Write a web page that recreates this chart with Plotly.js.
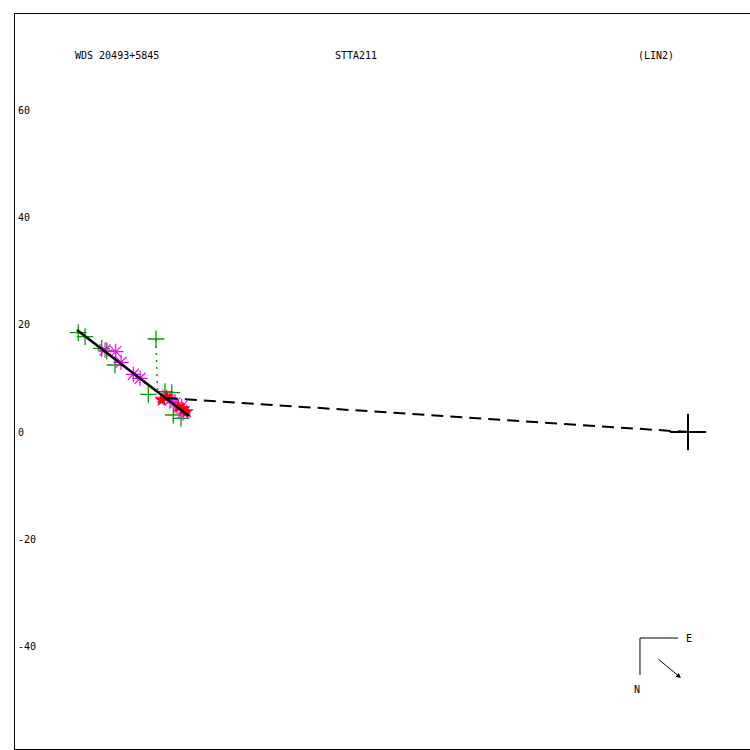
<!DOCTYPE html>
<html>
<head>
<meta charset="utf-8">
<script src="https://cdn.plot.ly/plotly-3.0.1.min.js"></script>
<style>html,body{margin:0;padding:0;background:#fff;}#chart{width:750px;height:750px;}</style>
</head>
<body>
<div id="chart"></div>
<script>
// Orbit (nearly edge-on) and periastron line
const orbitX = [-114.1, -93.2];
const orbitY = [19.05, 2.99];
const periX = [-97.5, 0];
const periY = [6.35, 0];
// Primary star
const primX = [0];
const primY = [0];
// Micrometric observations (green +)
const microX = [-113.86, -112.6, -109.49, -108.55, -107.0, -99.35, -100.78, -97.67, -96.41, -96.11, -94.68];
const microY = [18.54, 17.80, 15.63, 15.13, 12.51, 17.37, 7.04, 7.53, 7.34, 3.17, 2.56];
// Speckle observations (magenta *)
const speckX = [-108.87, -106.87, -105.88, -103.58, -102.33, -98.04, -96.73, -95.80, -94.55, -94.30];
const speckY = [15.31, 15.0, 13.02, 10.77, 10.03, 6.54, 5.98, 5.42, 4.72, 3.55];
// Other observations (red)
const redX = [-98.28, -97.35, -95.18, -94.30, -93.61];
const redY = [5.98, 6.59, 4.72, 4.30, 3.79];
// O-C residual line for outlier
const resX = [-99.35, -99.07];
const resY = [17.37, 7.47];
// Tick values
const yTicks = [-40, -20, 0, 20, 40, 60];

const font = {family: 'DejaVu Sans Mono, monospace', size: 10, color: '#000'};

const traces = [
  {x: resX, y: resY, mode: 'lines', line: {color: '#00a000', width: 1.5, dash: '2px,5px'}, hoverinfo: 'skip'},
  {x: microX, y: microY, mode: 'markers', marker: {symbol: 'cross-thin-open', size: 12, color: '#00a000', line: {color: '#00a000', width: 1.3}}},
  {x: speckX, y: speckY, mode: 'markers', marker: {symbol: 'asterisk-open', size: 13, color: '#ff00ff', line: {color: '#ff00ff', width: 1.2}}},
  {x: redX, y: redY, mode: 'markers', marker: {symbol: 'star', size: 11, color: '#ff0000', line: {width: 0}}},
  {x: orbitX, y: orbitY, mode: 'lines', line: {color: '#000', width: 2.5}},
  {x: periX, y: periY, mode: 'lines', line: {color: '#000', width: 2, dash: '12px,7px'}},
  {x: primX, y: primY, mode: 'markers', marker: {symbol: 'cross-thin-open', size: 26, color: '#000', line: {color: '#000', width: 2}}}
];

const layout = {
  width: 750, height: 750,
  margin: {l: 15, r: 0, t: 14, b: 1, pad: 0},
  paper_bgcolor: '#fff', plot_bgcolor: '#fff',
  showlegend: false,
  font: font,
  xaxis: {range: [-125.68, 11.58], showgrid: false, zeroline: false, showticklabels: false,
          ticks: '', showline: true, mirror: true, linecolor: '#000', linewidth: 1},
  yaxis: {range: [-59.2, 78.06], showgrid: false, zeroline: false, tickvals: yTicks,
          ticktext: yTicks.map(String), ticks: '', ticklabelposition: 'inside', ticklabelstandoff: 2,
          tickfont: font, showline: true, mirror: false, linecolor: '#000', linewidth: 1},
  shapes: [
    {type: 'line', xref: 'paper', yref: 'paper', x0: 0.8503, y0: 0.1510, x1: 0.9020, y1: 0.1510, line: {color: '#000', width: 1}},
    {type: 'line', xref: 'paper', yref: 'paper', x0: 0.8503, y0: 0.1510, x1: 0.8503, y1: 0.1007, line: {color: '#000', width: 1}}
  ],
  annotations: [
    {xref: 'paper', yref: 'paper', x: 0.0789, y: 0.9442, xanchor: 'left', yanchor: 'middle', text: 'WDS 20493+5845', showarrow: false, font: font},
    {xref: 'paper', yref: 'paper', x: 0.4327, y: 0.9442, xanchor: 'left', yanchor: 'middle', text: 'STTA211', showarrow: false, font: font},
    {xref: 'paper', yref: 'paper', x: 0.8449, y: 0.9442, xanchor: 'left', yanchor: 'middle', text: '(LIN2)', showarrow: false, font: font},
    {xref: 'paper', yref: 'paper', x: 0.9102, y: 0.1510, xanchor: 'left', yanchor: 'middle', text: 'E', showarrow: false, font: font},
    {xref: 'paper', yref: 'paper', x: 0.8463, y: 0.0816, xanchor: 'center', yanchor: 'middle', text: 'N', showarrow: false, font: font},
    {xref: 'paper', yref: 'paper', x: 0.9061, y: 0.0966, text: '', showarrow: true, ax: -24, ay: -20,
     arrowhead: 2, arrowsize: 1, arrowwidth: 1, arrowcolor: '#000'}
  ]
};

Plotly.newPlot('chart', traces, layout, {displayModeBar: false, staticPlot: true});
</script>
</body>
</html>
